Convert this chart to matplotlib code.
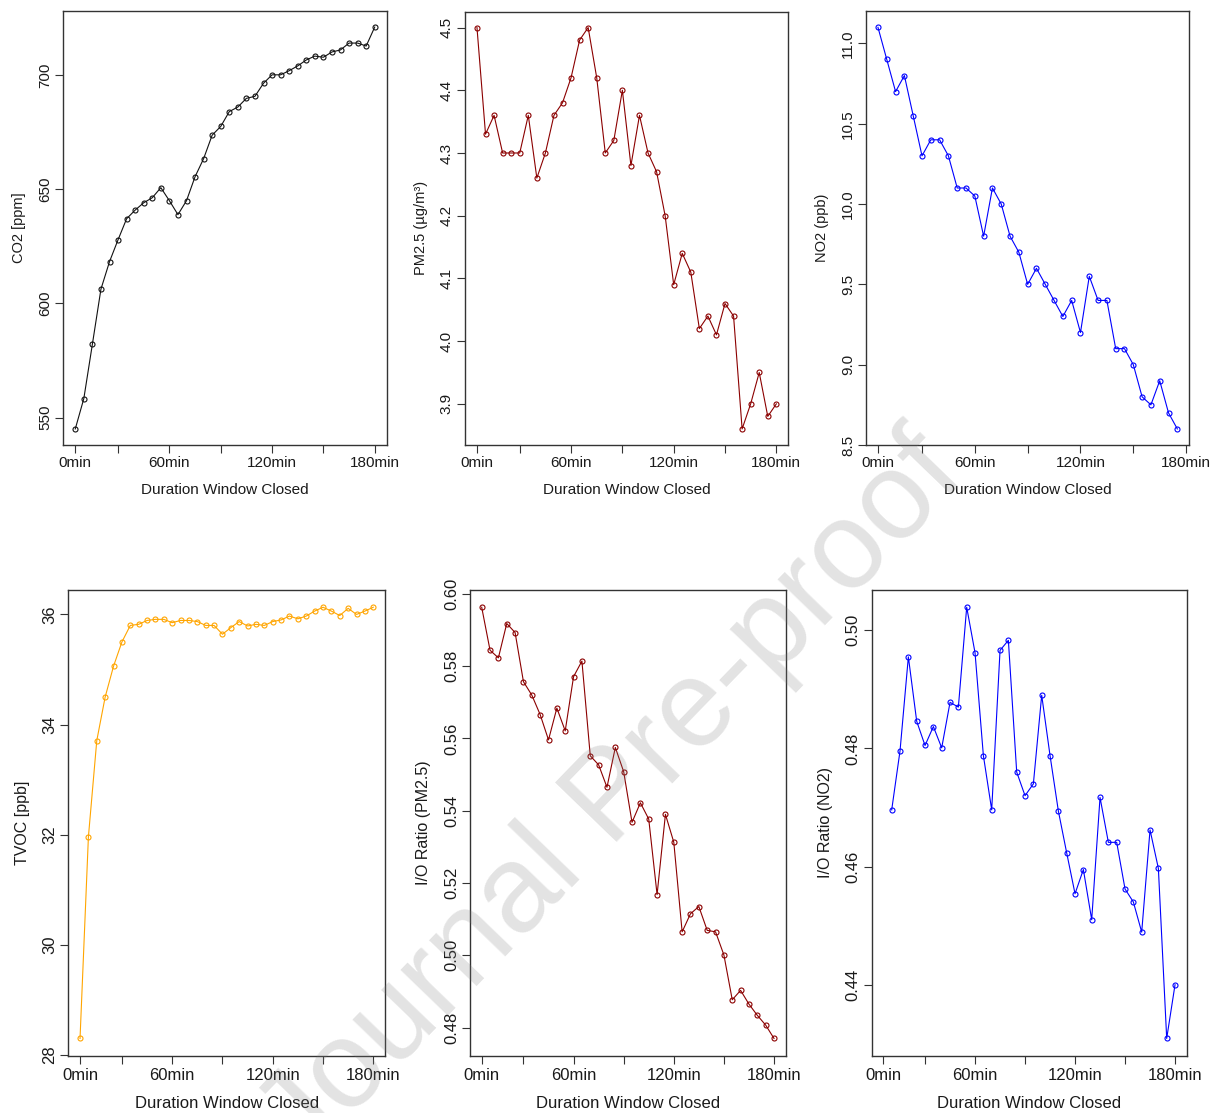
import numpy as np
import matplotlib
matplotlib.use("Agg")
import matplotlib.pyplot as plt

plt.rcParams["font.family"] = ["Liberation Sans", "DejaVu Sans"]

# ---- data: one value every 5 minutes while the window stays closed ----
co2 = [545.0, 558.3, 582.1, 606.2, 618.2, 627.8, 637.0, 640.8, 644.0, 646.2,
       650.6, 644.9, 638.8, 644.9, 655.4, 663.3, 673.6, 677.4, 683.9, 685.9,
       689.7, 690.6, 696.3, 700.0, 700.0, 701.8, 703.9, 706.5, 708.2, 707.7,
       710.0, 710.9, 713.9, 713.9, 712.6, 720.9]

pm25 = [4.50, 4.33, 4.36, 4.30, 4.30, 4.30, 4.36, 4.26, 4.30, 4.36,
        4.38, 4.42, 4.48, 4.50, 4.42, 4.30, 4.32, 4.40, 4.28, 4.36,
        4.30, 4.27, 4.20, 4.09, 4.14, 4.11, 4.02, 4.04, 4.01, 4.06,
        4.04, 3.86, 3.90, 3.95, 3.88, 3.90]

no2 = [11.10, 10.90, 10.70, 10.80, 10.55, 10.30, 10.40, 10.40, 10.30, 10.10,
       10.10, 10.05, 9.80, 10.10, 10.00, 9.80, 9.70, 9.50, 9.60, 9.50,
       9.40, 9.30, 9.40, 9.20, 9.55, 9.40, 9.40, 9.10, 9.10, 9.00,
       8.80, 8.75, 8.90, 8.70, 8.60]

tvoc = [28.30, 31.96, 33.71, 34.50, 35.06, 35.50, 35.80, 35.82, 35.89, 35.91,
        35.91, 35.85, 35.89, 35.89, 35.87, 35.80, 35.80, 35.64, 35.76, 35.87,
        35.79, 35.82, 35.80, 35.87, 35.90, 35.97, 35.92, 35.97, 36.06, 36.13,
        36.06, 35.98, 36.11, 36.00, 36.06, 36.13]

io_pm25 = [0.5963, 0.5844, 0.5823, 0.5918, 0.5893, 0.5757, 0.5720, 0.5666, 0.5596, 0.5684,
           0.5621, 0.5771, 0.5814, 0.5552, 0.5527, 0.5465, 0.5575, 0.5508, 0.5368, 0.5422,
           0.5377, 0.5168, 0.5390, 0.5313, 0.5065, 0.5115, 0.5135, 0.5069, 0.5065, 0.5001,
           0.4877, 0.4903, 0.4865, 0.4834, 0.4807, 0.4770]

io_no2 = [np.nan, 0.4696, 0.4796, 0.4955, 0.4846, 0.4805, 0.4837, 0.4801, 0.4878, 0.4870,
          0.5039, 0.4962, 0.4788, 0.4696, 0.4966, 0.4983, 0.4760, 0.4720, 0.4740, 0.4890,
          0.4788, 0.4694, 0.4623, 0.4554, 0.4595, 0.4510, 0.4717, 0.4641, 0.4641, 0.4562,
          0.4540, 0.4489, 0.4662, 0.4597, 0.4309, 0.4400]

tick_pos = [1, 6, 12, 18, 24, 30, 36]
tick_labels = ["0min", "", "60min", "", "120min", "", "180min"]

W, H = 1219, 1113
fig = plt.figure(figsize=(W / 100, H / 100), dpi=100)


def px_axes(x0, y0, x1, y1):
    return fig.add_axes([x0 / W, 1 - y1 / H, (x1 - x0) / W, (y1 - y0) / H])


def r_lim(vals):
    v = np.asarray(vals, dtype=float)
    lo, hi = np.nanmin(v), np.nanmax(v)
    pad = 0.04 * (hi - lo)
    return lo - pad, hi + pad


def panel(box, values, color, ylabel, yticks, yfmt, fs, xpad, ypad):
    ax = px_axes(*box)
    vals = np.asarray(values, dtype=float)
    x = np.arange(1, len(vals) + 1)
    ax.plot(x, vals, color=color, lw=0.8, marker="o", ms=3.6,
            mfc="none", mec=color, mew=0.8)
    ax.set_xlim(r_lim(x))
    ax.set_ylim(r_lim(vals))
    ax.set_xticks(tick_pos)
    ax.set_xticklabels(tick_labels, fontsize=fs, color="#1a1a1a")
    ax.set_yticks(yticks)
    ax.set_yticklabels([yfmt.format(t) for t in yticks], fontsize=fs,
                       color="#1a1a1a", rotation=90, va="center")
    ax.tick_params(direction="out", length=6, width=0.8, color="#333333",
                   pad=2)
    ax.tick_params(axis="x", pad=3 if fs > 11 else 2)
    ax.set_xlabel("Duration Window Closed", fontsize=fs, color="#1a1a1a",
                  labelpad=xpad)
    ax.set_ylabel(ylabel, fontsize=fs - 0.5, color="#1a1a1a", labelpad=ypad)
    for s in ax.spines.values():
        s.set_color("#333333")
        s.set_linewidth(1.0)
    return ax


top = dict(fs=11, xpad=9, ypad=8.5)
bottom = dict(fs=12, xpad=9, ypad=9)

panel((63.3, 11, 386.7, 445), co2, "#111111", "CO2 [ppm]",
      [550, 600, 650, 700], "{:.0f}", **top)
panel((465, 11.5, 788.3, 445), pm25, "#8B0000", "PM2.5 (µg/m³)",
      [3.9, 4.0, 4.1, 4.2, 4.3, 4.4, 4.5], "{:.1f}", **top)
panel((866, 11.3, 1189.3, 445), no2, "#0000FF", "NO2 (ppb)",
      [8.5, 9.0, 9.5, 10.0, 10.5, 11.0], "{:.1f}", **top)
panel((68.3, 590, 385, 1055.7), tvoc, "#FFA500", "TVOC [ppb]",
      [28, 30, 32, 34, 36], "{:.0f}", **bottom)
panel((470, 590, 785.7, 1055.7), io_pm25, "#8B0000", "I/O Ratio (PM2.5)",
      [0.48, 0.50, 0.52, 0.54, 0.56, 0.58, 0.60], "{:.2f}", **bottom)
panel((871.7, 590, 1186.7, 1055.7), io_no2, "#0000FF", "I/O Ratio (NO2)",
      [0.44, 0.46, 0.48, 0.50], "{:.2f}", **bottom)

fig.text(0.503, 0.282, "Journal Pre-proof", rotation=46, fontsize=89,
         color="#808080", alpha=0.22, ha="center", va="center", zorder=20)

fig.savefig("out.png", dpi=100)
